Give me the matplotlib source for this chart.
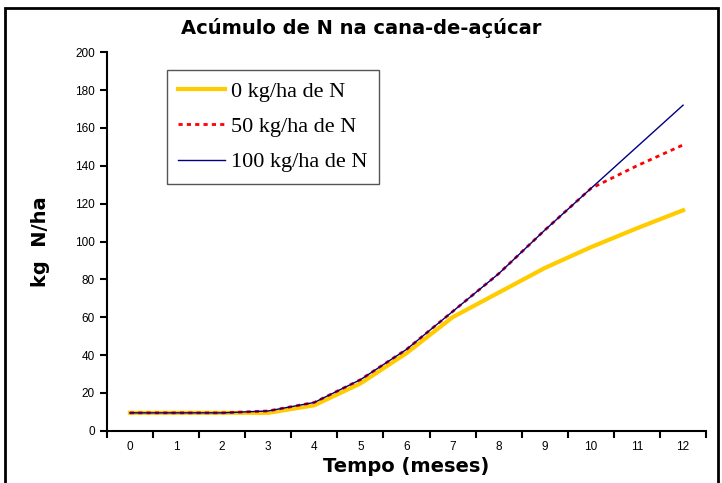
import matplotlib.pyplot as plt
from matplotlib.patches import Rectangle

# Dados
meses = [0, 1, 2, 3, 4, 5, 6, 7, 8, 9, 10, 11, 12]
n0 = [9.5, 9.5, 9.5, 9.5, 13.5, 25, 41, 60, 73, 86, 97, 107, 116.5]
n50 = [9.5, 9.5, 9.5, 10.5, 15, 27, 43, 63, 83, 106, 128, 140, 151]
n100 = [9.5, 9.5, 9.5, 10.5, 15, 27, 43, 63, 83, 106, 128, 150, 172]
rotulos = ['0 kg/ha de N', '50 kg/ha de N', '100 kg/ha de N']

fig = plt.figure(figsize=(7.22, 4.83), dpi=100)
ax = fig.add_axes([0.148, 0.108, 0.83, 0.784])

ax.plot(meses, n0, color='#FFCC00', lw=3, label=rotulos[0], solid_joinstyle='round')
ax.plot(meses, n50, color='red', lw=2, ls=(0, (1.5, 1.5)), label=rotulos[1])
ax.plot(meses, n100, color='#000080', lw=1, label=rotulos[2])

ax.set_xlim(-0.5, 12.5)
ax.set_ylim(0, 200)
ax.set_yticks(range(0, 201, 20))
ax.set_xticks(meses)
ax.set_xticks([m - 0.5 for m in meses] + [12.5], minor=True)
ax.tick_params(axis='x', which='major', length=0, pad=7, labelsize=8.5)
ax.tick_params(axis='x', which='minor', length=5, width=1.5, direction='out')
ax.tick_params(axis='y', length=5, width=1.5, labelsize=8.5)
for lab in ax.get_xticklabels() + ax.get_yticklabels():
    lab.set_family('Liberation Sans')

for s in ['top', 'right']:
    ax.spines[s].set_visible(False)
for s in ['left', 'bottom']:
    ax.spines[s].set_linewidth(1.5)

ax.set_xlabel('Tempo (meses)', fontsize=14, fontweight='bold', labelpad=3)
ax.set_ylabel('kg  N/ha', fontsize=14, fontweight='bold', labelpad=18)
fig.text(0.50, 0.942, 'Acúmulo de N na cana-de-açúcar', ha='center', va='center',
         fontsize=14, fontweight='bold')

leg = ax.legend(loc='upper left', bbox_to_anchor=(0.1, 0.952), frameon=True,
                fancybox=False, edgecolor='#555555', framealpha=1,
                prop={'family': 'Liberation Serif', 'size': 16},
                handlelength=2.1, labelspacing=0.66, borderpad=0.5,
                handletextpad=0.3, borderaxespad=0)
leg.get_frame().set_linewidth(1)

# moldura da figura
fig.patches.append(Rectangle((5 / 722, -0.1), 713 / 722, 1.1 - 8 / 483,
                             transform=fig.transFigure, fill=False,
                             edgecolor='black', lw=2))

fig.savefig('out.png', dpi=100)
